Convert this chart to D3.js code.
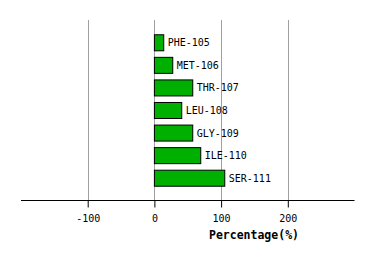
<!DOCTYPE html>
<html><head><meta charset="utf-8">
<script src="https://cdn.jsdelivr.net/npm/d3@7"></script>
<style>body{margin:0;background:#fff}svg{display:block}</style>
</head><body>
<script>
const categories = ["PHE-105","MET-106","THR-107","LEU-108","GLY-109","ILE-110","SER-111"];
const values = [14, 27.5, 57.5, 41, 57.5, 69.5, 105.5];
const tickValues = [-100, 0, 100, 200];
const axisTitle = "Percentage(%)";

const W = 374, H = 260;
const svg = d3.select("body").append("svg").attr("width", W).attr("height", H);
const x = d3.scaleLinear().domain([-200, 300]).range([21, 354.5]);
const y = d3.scaleBand().domain(categories).range([31.5, 189.5]).paddingInner(0.29).paddingOuter(0.145);
const font = "'DejaVu Sans Mono', monospace";

// gridlines
svg.append("g").selectAll("line").data(tickValues).join("line")
  .attr("x1", d => Math.round(x(d)) + 0.5).attr("x2", d => Math.round(x(d)) + 0.5)
  .attr("y1", 20).attr("y2", 200)
  .attr("stroke", "#a0a0a0").attr("stroke-width", 1);

// bars
svg.append("g").selectAll("rect").data(values).join("rect")
  .attr("x", x(0))
  .attr("y", (d, i) => y(categories[i]))
  .attr("width", d => x(d) - x(0))
  .attr("height", y.bandwidth())
  .attr("fill", "#00b000").attr("stroke", "#000").attr("stroke-width", 1);

// labels
svg.append("g").selectAll("text").data(values).join("text")
  .attr("x", d => x(d) + 4)
  .attr("y", (d, i) => y(categories[i]) + y.bandwidth() / 2)
  .attr("dy", "0.35em")
  .attr("font-family", font).attr("font-size", 10).attr("fill", "#000")
  .text((d, i) => categories[i]);

// axis
const ax = svg.append("g").attr("transform", "translate(0,200.5)")
  .call(d3.axisBottom(x).tickValues(tickValues).tickSize(7).tickPadding(7).tickFormat(d3.format("d")));
ax.select(".domain").attr("d", `M${x(-200)},0H${x(300)}`).attr("stroke", "#000");
ax.selectAll(".tick line").attr("stroke", "#000");
ax.selectAll(".tick text").attr("font-family", font).attr("font-size", 10).attr("fill", "#000")
  .text(d => d < 0 ? "-" + Math.abs(d) : d);

svg.append("text").attr("x", 254).attr("y", 239)
  .attr("text-anchor", "middle").attr("font-family", font).attr("font-weight", "bold")
  .attr("font-size", 11.5).attr("fill", "#000").text(axisTitle);
</script>
</body></html>
